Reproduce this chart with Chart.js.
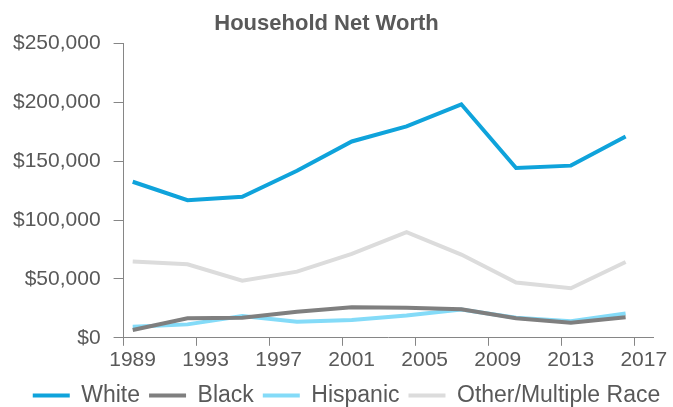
<!DOCTYPE html>
<html>
<head>
<meta charset="utf-8">
<script src="https://cdn.jsdelivr.net/npm/chart.js@4/dist/chart.umd.min.js"></script>
<style>
    body { margin: 0; background: #ffffff; }
    #wrap { width: 673px; height: 407px; }
</style>
</head>
<body>
<div id="wrap"><canvas id="netWorth"></canvas></div>
<script>
// survey years (SCF) and median net worth by race
var jahre = [1989, 1992, 1995, 1998, 2001, 2004, 2007, 2010, 2013, 2016];
var white = [132500, 116800, 119700, 141900, 166700, 179500, 198300, 144200, 146200, 170900];
var black = [6600, 16500, 17000, 22200, 25900, 25500, 24200, 16600, 12800, 17400];
var hispanic = [9400, 11400, 18500, 13700, 15100, 19000, 24000, 17000, 14000, 20600];
var other = [64700, 62400, 48500, 56200, 71200, 89700, 70700, 47000, 42100, 64400];
var tick_jahre = [1989, 1993, 1997, 2001, 2005, 2009, 2013, 2017];

var grau = '#595959';
var achse = '#868686';

function punkte(werte) {
    var p = [];
    for (var i = 0; i < jahre.length; i++) {
        p.push({ x: jahre[i], y: werte[i] });
    }
    return p;
}

function linie(name, werte, farbe) {
    return {
        label: name,
        data: punkte(werte),
        borderColor: farbe,
        backgroundColor: farbe,
        borderWidth: 4,
        pointRadius: 0,
        tension: 0
    };
}

// legend sits a bit right of centre in the original
var legend_schieben = {
    id: 'legend_schieben',
    afterLayout: function(chart) {
        chart.legend.left += 20;
        chart.legend.right += 20;
    }
};

Chart.defaults.font.family = '"Liberation Sans", Arial, sans-serif';
Chart.defaults.color = grau;

var ctx = document.getElementById('netWorth').getContext('2d');
var myChart = new Chart(ctx, {
    type: 'line',
    data: {
        datasets: [
            linie('White', white, '#0fa3db'),
            linie('Black', black, '#7f7f7f'),
            linie('Hispanic', hispanic, '#84dbf8'),
            linie('Other/Multiple Race', other, '#dcdcdc')
        ]
    },
    plugins: [legend_schieben],
    options: {
        responsive: true,
        maintainAspectRatio: false,
        animation: false,
        layout: { padding: { left: 0, right: 20, top: 8, bottom: -10 } },
        plugins: {
            title: {
                display: true,
                text: 'Household Net Worth',
                color: grau,
                font: { size: 22, weight: 'bold' },
                padding: { top: 3, bottom: 6 }
            },
            legend: {
                position: 'bottom',
                labels: {
                    color: grau,
                    font: { size: 23 },
                    boxWidth: 37,
                    boxHeight: 4,
                    padding: 9,
                    generateLabels: function(chart) {
                        var items = Chart.defaults.plugins.legend.labels.generateLabels(chart);
                        items.forEach(function(it) { it.lineWidth = 0; });
                        return items;
                    }
                }
            },
            tooltip: { enabled: false }
        },
        scales: {
            x: {
                type: 'linear',
                min: 1988.5,
                max: 2017.5,
                afterBuildTicks: function(axis) {
                    // labels sit on the start of each year
                    axis.ticks = tick_jahre.map(function(j) { return { value: j - 0.5 }; });
                },
                ticks: {
                    color: grau,
                    font: { size: 21 },
                    maxRotation: 0,
                    autoSkip: false,
                    labelOffset: 9,
                    padding: 2,
                    callback: function(v) { return String(Math.round(v + 0.5)); }
                },
                grid: { display: true, drawOnChartArea: false, drawTicks: true, tickLength: 8, color: achse },
                border: { display: true, color: achse, width: 1 }
            },
            y: {
                min: 0,
                max: 250000,
                ticks: {
                    stepSize: 50000,
                    color: grau,
                    font: { size: 21 },
                    padding: 13,
                    callback: function(v) { return '$' + v.toLocaleString('en-US'); }
                },
                grid: { display: true, drawOnChartArea: false, drawTicks: true, tickLength: 10, color: achse },
                border: { display: true, color: achse, width: 1 }
            }
        }
    }
});
</script>
</body>
</html>
